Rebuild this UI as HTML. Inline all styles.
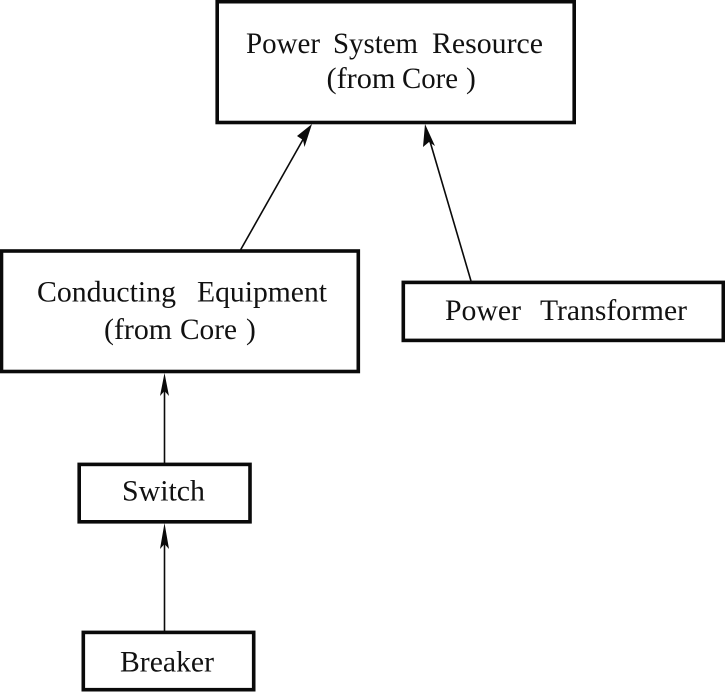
<!DOCTYPE html>
<html>
<head>
<meta charset="utf-8">
<style>
html,body{margin:0;padding:0;background:#fff;}
svg{display:block;}
text{font-family:"Liberation Serif",serif;font-size:29.5px;fill:#111;}
</style>
</head>
<body>
<svg width="725" height="693" viewBox="0 0 725 693" xmlns="http://www.w3.org/2000/svg">
<rect width="725" height="693" fill="#fff"/>
<g fill="none" stroke="#0a0a0a" stroke-width="3.6">
<rect x="217.2" y="1.7" width="357" height="120.8"/>
<rect x="1.5" y="251" width="356.8" height="120.5"/>
<rect x="79.2" y="464.4" width="170.8" height="57.4"/>
<rect x="83.3" y="632.4" width="170.4" height="57.3"/>
<rect x="403.3" y="282.4" width="320" height="58"/>
</g>
<g stroke="#0a0a0a" stroke-width="1.6" fill="none">
<line x1="240.5" y1="250" x2="305" y2="136"/>
<line x1="471" y1="281" x2="429" y2="138"/>
<line x1="164.5" y1="463" x2="164.5" y2="390"/>
<line x1="164.5" y1="631" x2="164.5" y2="540"/>
</g>
<g fill="#0a0a0a">
<polygon points="312,124 304.5,147 303,140 297,136"/>
<polygon points="425,124 435,146 429,142 423,147"/>
<polygon points="164.5,373 169,396 164.5,391 160,396"/>
<polygon points="164.5,523 169,549 164.5,544 160,549"/>
</g>
<text x="246" y="53" textLength="74" lengthAdjust="spacingAndGlyphs">Power</text>
<text x="333" y="53" textLength="85" lengthAdjust="spacingAndGlyphs">System</text>
<text x="432" y="53" textLength="111" lengthAdjust="spacingAndGlyphs">Resource</text>
<text x="326.5" y="88" textLength="69" lengthAdjust="spacingAndGlyphs">(from</text>
<text x="402" y="88" textLength="56" lengthAdjust="spacingAndGlyphs">Core</text>
<text x="466" y="88">)</text>
<text x="37" y="301.5" textLength="139" lengthAdjust="spacingAndGlyphs">Conducting</text>
<text x="197" y="301.5" textLength="130" lengthAdjust="spacingAndGlyphs">Equipment</text>
<text x="104" y="339" textLength="68" lengthAdjust="spacingAndGlyphs">(from</text>
<text x="180" y="339" textLength="57" lengthAdjust="spacingAndGlyphs">Core</text>
<text x="246" y="339">)</text>
<text x="122" y="500.5" textLength="83" lengthAdjust="spacingAndGlyphs">Switch</text>
<text x="120" y="671.5" textLength="94" lengthAdjust="spacingAndGlyphs">Breaker</text>
<text x="445" y="320" textLength="76" lengthAdjust="spacingAndGlyphs">Power</text>
<text x="540" y="320" textLength="147" lengthAdjust="spacingAndGlyphs">Transformer</text>
</svg>
</body>
</html>
